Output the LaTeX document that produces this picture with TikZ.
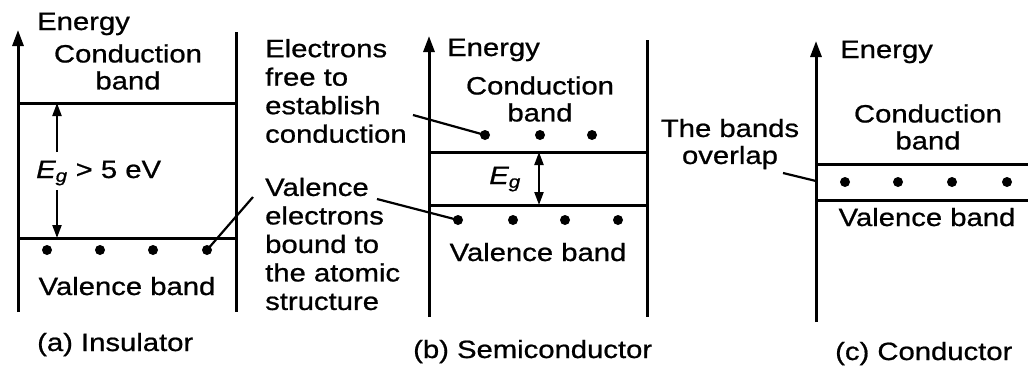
\documentclass[tikz,border=0pt]{standalone}
\usepackage{fontspec}
\setmainfont{Liberation Sans}[FakeStretch=1.17,FakeBold=0.8]
\usetikzlibrary{arrows.meta}
\begin{document}
\begin{tikzpicture}[x=1pt,y=-1pt,
  band/.style={line width=3pt},
  axis/.style={line width=3pt,-{Triangle[length=16pt,width=11pt]}},
  gap/.style={line width=2.2pt,-{Triangle[length=13pt,width=9pt]}},
  leader/.style={line width=2.2pt},
  dot/.style={circle,fill=black,inner sep=0pt,minimum size=10pt},
  txt/.style={inner sep=0pt,font=\fontsize{25}{27}\selectfont,align=center},
  col/.style={inner sep=0pt,font=\fontsize{25}{28.5}\selectfont,align=left,anchor=west},
  lbl/.style={inner sep=0pt,font=\fontsize{25}{27}\selectfont,anchor=base west}]
\useasboundingbox (0,0) rectangle (1028,367);

% ---------- (a) Insulator ----------
\coordinate (aAxB) at (18,312);
\coordinate (aAxT) at (18,30);
\coordinate (aRT) at (236,32);
\coordinate (aRB) at (236,312);
\coordinate (aCL) at (18,103);
\coordinate (aCR) at (236,103);
\coordinate (aVL) at (18,238);
\coordinate (aVR) at (236,238);
\draw[axis] (aAxB) -- (aAxT);
\draw[band] (aRT) -- (aRB);
\draw[band] (aCL) -- (aCR);
\draw[band] (aVL) -- (aVR);
\node[lbl] (aEn) at (37,30) {Energy};
\node[txt] (aCB) at (128,67) {Conduction\\band};
\node[lbl] (aEg) at (36,178) {{\itshape E\textsubscript{g}} > 5 eV};
\coordinate (aGT) at (57,103);
\coordinate (aGU) at (57,152);
\coordinate (aGD) at (57,190);
\coordinate (aGB) at (57,238);
\draw[gap] (aGU) -- (aGT);
\draw[gap] (aGD) -- (aGB);
\node[dot] (a1) at (47,250) {};
\node[dot] (a2) at (100,250) {};
\node[dot] (a3) at (153,250) {};
\node[dot] (a4) at (207,250) {};
\coordinate (aLead) at (253,197);
\draw[leader] (a4.center) -- (aLead);
\node[lbl,anchor=base] (aVB) at (127,295) {Valence band};
\node[lbl] (aCap) at (37,351) {(a) Insulator};

% ---------- (b) Semiconductor ----------
\coordinate (bAxB) at (429,317);
\coordinate (bAxT) at (429,36);
\coordinate (bRT) at (647,40);
\coordinate (bRB) at (647,317);
\coordinate (bCL) at (429,152);
\coordinate (bCR) at (647,152);
\coordinate (bVL) at (429,205);
\coordinate (bVR) at (647,205);
\draw[axis] (bAxB) -- (bAxT);
\draw[band] (bRT) -- (bRB);
\draw[band] (bCL) -- (bCR);
\draw[band] (bVL) -- (bVR);
\node[lbl] (bEn) at (447,56) {Energy};
\node[txt] (bCB) at (540,99) {Conduction\\band};
\node[dot] (b1) at (485,135) {};
\node[dot] (b2) at (540,135) {};
\node[dot] (b3) at (592,135) {};
\coordinate (bGT) at (539,152);
\coordinate (bGB) at (539,205);
\draw[gap,{Triangle[length=13pt,width=9pt]}-{Triangle[length=13pt,width=9pt]}] (bGT) -- (bGB);
\node[lbl,anchor=base] (bEg) at (505,184) {{\itshape E\textsubscript{g}}};
\node[dot] (b4) at (458,220) {};
\node[dot] (b5) at (513,220) {};
\node[dot] (b6) at (565,220) {};
\node[dot] (b7) at (618,220) {};
\node[lbl,anchor=base] (bVB) at (538,261) {Valence band};
\node[col] (bFree) at (265,91) {Electrons\\free to\\establish\\conduction};
\node[col] (bBound) at (265,244) {Valence\\electrons\\bound to\\the atomic\\structure};
\coordinate (bL1) at (413,115);
\coordinate (bL2) at (377,199);
\draw[leader] (bL1) -- (b1.center);
\draw[leader] (bL2) -- (b4.center);
\node[lbl] (bCap) at (413,358) {(b) Semiconductor};

% ---------- (c) Conductor ----------
\coordinate (cAxB) at (816,322);
\coordinate (cAxT) at (816,41);
\coordinate (cCL) at (816,164);
\coordinate (cCR) at (1028,164);
\coordinate (cVL) at (816,200);
\coordinate (cVR) at (1028,200);
\draw[axis] (cAxB) -- (cAxT);
\draw[band] (cCL) -- (cCR);
\draw[band] (cVL) -- (cVR);
\node[lbl] (cEn) at (840,58) {Energy};
\node[txt] (cCB) at (928,127) {Conduction\\band};
\node[dot] (c1) at (845,182) {};
\node[dot] (c2) at (898,182) {};
\node[dot] (c3) at (952,182) {};
\node[dot] (c4) at (1007,182) {};
\node[lbl,anchor=base] (cVB) at (927,226) {Valence band};
\node[txt] (cOv) at (730,144) {The bands\\overlap};
\coordinate (cL1) at (783,173);
\coordinate (cL2) at (816,181);
\draw[leader] (cL1) -- (cL2);
\node[lbl] (cCap) at (835,360) {(c) Conductor};
\end{tikzpicture}
\end{document}
